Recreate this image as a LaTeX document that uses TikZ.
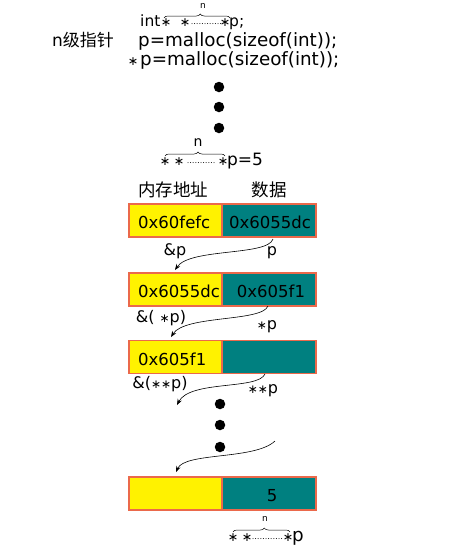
\documentclass[tikz,border=0pt]{standalone}
\usepackage{fontspec}
\setmainfont{DejaVu Sans}
\newfontfamily\cjk{Noto Sans CJK SC}
\usetikzlibrary{arrows.meta,decorations.pathreplacing}
\definecolor{bordr}{RGB}{235,105,75}
\definecolor{tealc}{RGB}{0,128,128}
\begin{document}
\begin{tikzpicture}[x=1pt,y=-1pt,
  txt/.style={inner sep=0pt, anchor=base west, font=\fontsize{18.3}{20}\selectfont},
  itxt/.style={inner sep=0pt, anchor=base west, font=\fontsize{15.5}{18}\selectfont},
  btxt/.style={inner sep=0pt, anchor=base west, font=\fontsize{16.5}{20}\selectfont},
  cbtxt/.style={inner sep=0pt, anchor=base, font=\fontsize{16.5}{20}\selectfont},
  lbl/.style={inner sep=0pt, anchor=base, font=\fontsize{16}{18}\selectfont},
  cjkt/.style={inner sep=0pt, font=\fontsize{17.5}{18}\cjk},
  smstar/.style={inner sep=0pt, anchor=base, font=\fontsize{12.5}{12}\selectfont},
  nlab/.style={inner sep=0pt, font=\fontsize{9}{9}\selectfont},
  ycell/.style={fill=yellow, draw=bordr, line width=1.2pt, minimum width=93pt, minimum height=33pt, inner sep=0pt},
  tcell/.style={fill=tealc, draw=bordr, line width=1.2pt, minimum width=94pt, minimum height=33pt, inner sep=0pt},
  bigdot/.style={circle, fill=black, inner sep=0pt, minimum size=10.5pt},
  curv/.style={-{Stealth[length=6pt,width=4.5pt]}, line width=0.6pt},
  dotrow/.style={line width=1pt, line cap=round, dash pattern=on 0pt off 2.6pt},
  brc/.style={decorate, decoration={brace, amplitude=4pt, aspect=0.55}, line width=0.5pt}]
\useasboundingbox (0,0) rectangle (459,550);

% ---------- header code ----------
\node[itxt] (int) at (140,26) {int};
\node[smstar] (ts1) at (166,26) {∗};
\node[smstar] (ts2) at (185,26) {∗};
\draw[dotrow] (192,23.5) -- (222,23.5);
\node[smstar] (ts3) at (225,26) {∗};
\node[itxt] (tp) at (229,26) {p;};
\draw[brc] (164,18) -- (230,18);
\node[nlab] (tn) at (203,6) {n};

\node[inner sep=0pt, anchor=base west, font=\fontsize{17}{20}\selectfont] (nlvl) at (52,46) {n{\cjk 级指针}};
\node[txt] (m1) at (138,46) {p=malloc(sizeof(int));};
\node[smstar] (m2s) at (133,65) {∗};
\node[txt] (m2) at (140,65) {p=malloc(sizeof(int));};

\node[bigdot] (d1) at (219,87) {};
\node[bigdot] (d2) at (219,107) {};
\node[bigdot] (d3) at (219,128) {};

\node[smstar] (ms1) at (165,165) {∗};
\node[smstar] (ms2) at (179,165) {∗};
\draw[dotrow] (188,162.5) -- (215,162.5);
\node[smstar] (ms3) at (223,165) {∗};
\node[inner sep=0pt, anchor=base west, font=\fontsize{17}{20}\selectfont] (mp) at (227,165) {p=5};
\draw[brc] (165,156) -- (225,156);
\node[inner sep=0pt, font=\fontsize{14}{14}\selectfont] (mn) at (198,143) {n};

% ---------- table ----------
\node[cjkt] (h1) at (173,190) {内存地址};
\node[cjkt] (h2) at (269,190) {数据};

\node[ycell] (y1) at (175.5,220.5) {};
\node[tcell] (t1) at (269,220.5) {};
\node[btxt] (y1t) at (138,228.5) {0x60fefc};
\node[cbtxt] (t1t) at (270,228.5) {0x6055dc};

\node[ycell] (y2) at (175.5,289.5) {};
\node[tcell] (t2) at (269,289.5) {};
\node[btxt] (y2t) at (138,297.5) {0x6055dc};
\node[cbtxt] (t2t) at (271,297.5) {0x605f1};

\node[ycell] (y3) at (175.5,357) {};
\node[tcell] (t3) at (269,357) {};
\node[btxt] (y3t) at (138,365) {0x605f1};

\node[bigdot] (d4) at (220,404) {};
\node[bigdot] (d5) at (220,425) {};
\node[bigdot] (d6) at (220,447) {};

\node[ycell] (y4) at (175.5,493.5) {};
\node[tcell] (t4) at (269,493.5) {};
\node[cbtxt] (t4t) at (272,501.5) {5};

% ---------- arrows & labels ----------
\coordinate (a1s) at (273,239);  \coordinate (a1e) at (175,270);
\coordinate (a2s) at (268,306);  \coordinate (a2e) at (171,337);
\coordinate (a3s) at (265,374);  \coordinate (a3e) at (177,405);
\coordinate (a4s) at (275,441);  \coordinate (a4e) at (176,472);
\draw[curv] (a1s) .. controls (268,256) and (190,248) .. (a1e);
\draw[curv] (a2s) .. controls (262,322) and (185,315) .. (a2e);
\draw[curv] (a3s) .. controls (258,390) and (190,380) .. (a3e);
\draw[curv] (a4s) .. controls (255,460) and (185,452) .. (a4e);

\node[lbl] (l1a) at (175,255) {\&p};
\node[lbl] (l1b) at (272,255) {p};
\node[lbl] (l2a) at (161,322) {\&( {\fontsize{12}{12}\selectfont ∗}p)};
\node[lbl] (l2b) at (267,329) {{\fontsize{12}{12}\selectfont ∗}p};
\node[lbl] (l3a) at (160,388) {\&({\fontsize{12}{12}\selectfont ∗∗}p)};
\node[lbl] (l3b) at (263,393) {{\fontsize{12}{12}\selectfont ∗∗}p};

% ---------- bottom label ----------
\node[smstar] (bs1) at (233,541) {∗};
\node[smstar] (bs2) at (247,541) {∗};
\draw[dotrow] (253,538.5) -- (283,538.5);
\node[smstar] (bs3) at (288,541) {∗};
\node[txt] (bp) at (292,541) {p};
\draw[brc] (233,532) -- (290,532);
\node[nlab] (bn) at (265,519) {n};
\end{tikzpicture}
\end{document}
